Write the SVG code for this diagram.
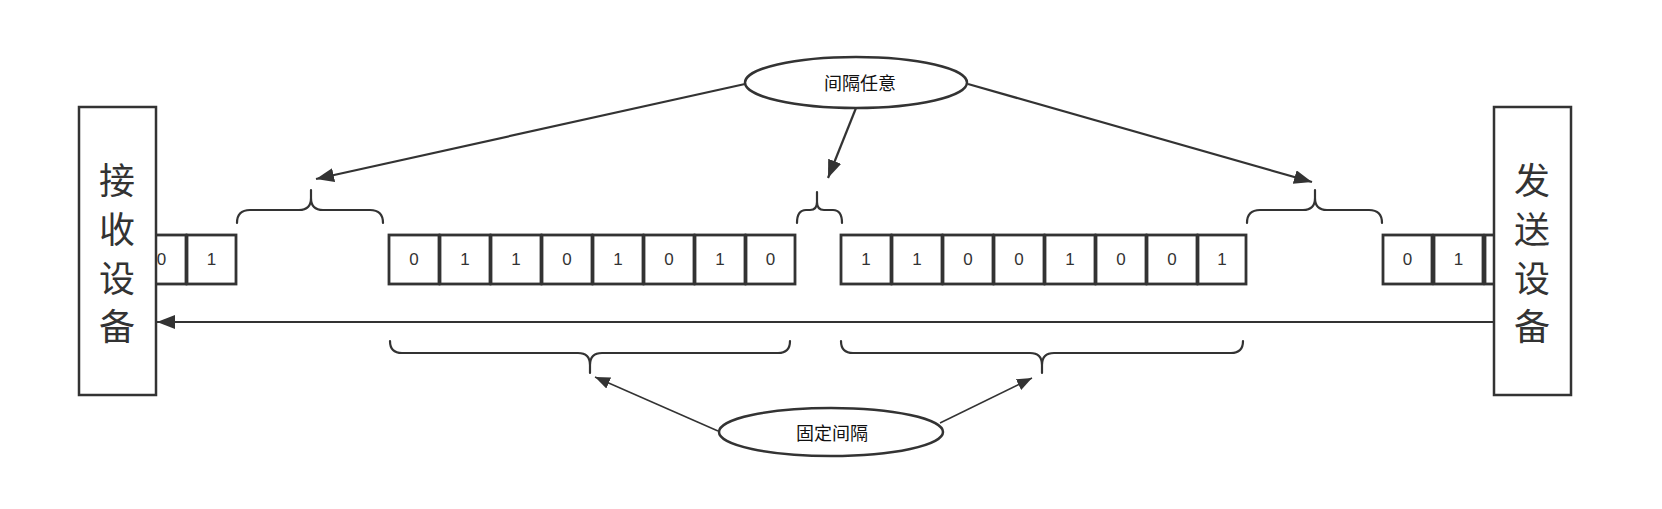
<svg xmlns="http://www.w3.org/2000/svg" width="1662" height="509" viewBox="0 0 1662 509">
<style>
.bit{fill:#fff;stroke:#333;stroke-width:2.8}
.bt{font-family:"Liberation Sans",Arial,sans-serif;font-size:17px;fill:#333;text-anchor:middle;dominant-baseline:central}
.dev{fill:#fff;stroke:#333;stroke-width:2.5}
.dt{font-family:"Noto Sans CJK SC",sans-serif;font-size:36px;fill:#333;text-anchor:middle;dominant-baseline:central}
.br{fill:none;stroke:#333;stroke-width:2.2;stroke-linecap:round}
.el{fill:#fff;stroke:#333;stroke-width:2.5}
.et{font-family:"Noto Sans CJK SC",sans-serif;font-size:18px;fill:#111;text-anchor:middle;dominant-baseline:central}
.ar{fill:none;stroke:#333;stroke-width:2.2}
.ar2{fill:none;stroke:#333;stroke-width:1.5}
</style>
<defs>
<marker id="ah" markerUnits="userSpaceOnUse" markerWidth="20" markerHeight="16" refX="18" refY="7" orient="auto">
<path d="M0,0 L18,7 L0,14 Z" fill="#333"/>
</marker>
<marker id="ah2" markerUnits="userSpaceOnUse" markerWidth="18" markerHeight="14" refX="15" refY="6" orient="auto">
<path d="M0,0 L15,6 L0,12 Z" fill="#333"/>
</marker>
</defs>

<g id="bits-left">
<rect class="bit" x="137" y="235" width="49" height="49"/><text class="bt" x="161.5" y="259.5">0</text>
<rect class="bit" x="187" y="235" width="49" height="49"/><text class="bt" x="211.5" y="259.5">1</text>
</g>
<g id="bits-byte1">
<rect class="bit" x="389" y="235" width="50" height="49"/><text class="bt" x="414" y="259.5">0</text>
<rect class="bit" x="440" y="235" width="50" height="49"/><text class="bt" x="465" y="259.5">1</text>
<rect class="bit" x="491" y="235" width="50" height="49"/><text class="bt" x="516" y="259.5">1</text>
<rect class="bit" x="542" y="235" width="50" height="49"/><text class="bt" x="567" y="259.5">0</text>
<rect class="bit" x="593" y="235" width="50" height="49"/><text class="bt" x="618" y="259.5">1</text>
<rect class="bit" x="644" y="235" width="50" height="49"/><text class="bt" x="669" y="259.5">0</text>
<rect class="bit" x="695" y="235" width="50" height="49"/><text class="bt" x="720" y="259.5">1</text>
<rect class="bit" x="746" y="235" width="49" height="49"/><text class="bt" x="770.5" y="259.5">0</text>
</g>
<g id="bits-byte2">
<rect class="bit" x="841" y="235" width="50" height="49"/><text class="bt" x="866" y="259.5">1</text>
<rect class="bit" x="892" y="235" width="50" height="49"/><text class="bt" x="917" y="259.5">1</text>
<rect class="bit" x="943" y="235" width="50" height="49"/><text class="bt" x="968" y="259.5">0</text>
<rect class="bit" x="994" y="235" width="50" height="49"/><text class="bt" x="1019" y="259.5">0</text>
<rect class="bit" x="1045" y="235" width="50" height="49"/><text class="bt" x="1070" y="259.5">1</text>
<rect class="bit" x="1096" y="235" width="50" height="49"/><text class="bt" x="1121" y="259.5">0</text>
<rect class="bit" x="1147" y="235" width="50" height="49"/><text class="bt" x="1172" y="259.5">0</text>
<rect class="bit" x="1198" y="235" width="48" height="49"/><text class="bt" x="1222" y="259.5">1</text>
</g>
<g id="bits-right">
<rect class="bit" x="1383" y="235" width="49" height="49"/><text class="bt" x="1407.5" y="259.5">0</text>
<rect class="bit" x="1434" y="235" width="49" height="49"/><text class="bt" x="1458.5" y="259.5">1</text>
<rect class="bit" x="1485" y="235" width="49" height="49"/>
</g>

<g id="receiver">
<rect class="dev" x="79" y="107" width="77" height="288"/>
<text class="dt" x="117" y="178">接</text>
<text class="dt" x="117" y="227">收</text>
<text class="dt" x="117" y="276">设</text>
<text class="dt" x="117" y="324">备</text>
</g>
<g id="sender">
<rect class="dev" x="1494" y="107" width="77" height="288"/>
<text class="dt" x="1532" y="178">发</text>
<text class="dt" x="1532" y="227">送</text>
<text class="dt" x="1532" y="276">设</text>
<text class="dt" x="1532" y="324">备</text>
</g>

<g id="braces">
<path class="br" d="M237,223 Q237,210 250,210 H299 Q311,210 311,198 V190 M311,198 Q311,210 323,210 H370 Q383,210 383,223"/>
<path class="br" d="M797,223 Q797,210 806,210 H810 Q817,210 817,202 V192 M817,202 Q817,210 824,210 H833 Q842,210 842,223"/>
<path class="br" d="M1247,223 Q1247,210 1260,210 H1303 Q1315,210 1315,198 V190 M1315,198 Q1315,210 1327,210 H1369 Q1382,210 1382,223"/>
<path class="br" d="M390,341 Q390,353 402,353 H578 Q590,353 590,365 V373 M590,365 Q590,353 602,353 H778 Q790,353 790,341"/>
<path class="br" d="M841,341 Q841,353 853,353 H1030 Q1042,353 1042,365 V373 M1042,365 Q1042,353 1054,353 H1231 Q1243,353 1243,341"/>
</g>

<g id="ellipse-any">
<ellipse class="el" cx="856" cy="82.5" rx="111" ry="25.5"/>
<text class="et" x="860" y="82">间隔任意</text>
</g>
<g id="ellipse-fixed">
<ellipse class="el" cx="831" cy="432" rx="112" ry="24"/>
<text class="et" x="832" y="432">固定间隔</text>
</g>

<g id="connectors">
<line class="ar" x1="1494" y1="322" x2="157" y2="322" marker-end="url(#ah)"/>
<line class="ar" x1="745" y1="84" x2="316" y2="179" marker-end="url(#ah)"/>
<line class="ar" x1="856" y1="108" x2="828" y2="178" marker-end="url(#ah)"/>
<line class="ar" x1="968" y1="84" x2="1312" y2="182" marker-end="url(#ah)"/>
<line class="ar2" x1="718" y1="431" x2="595" y2="377" marker-end="url(#ah2)"/>
<line class="ar2" x1="940" y1="423" x2="1032" y2="378" marker-end="url(#ah2)"/>
</g>
</svg>
